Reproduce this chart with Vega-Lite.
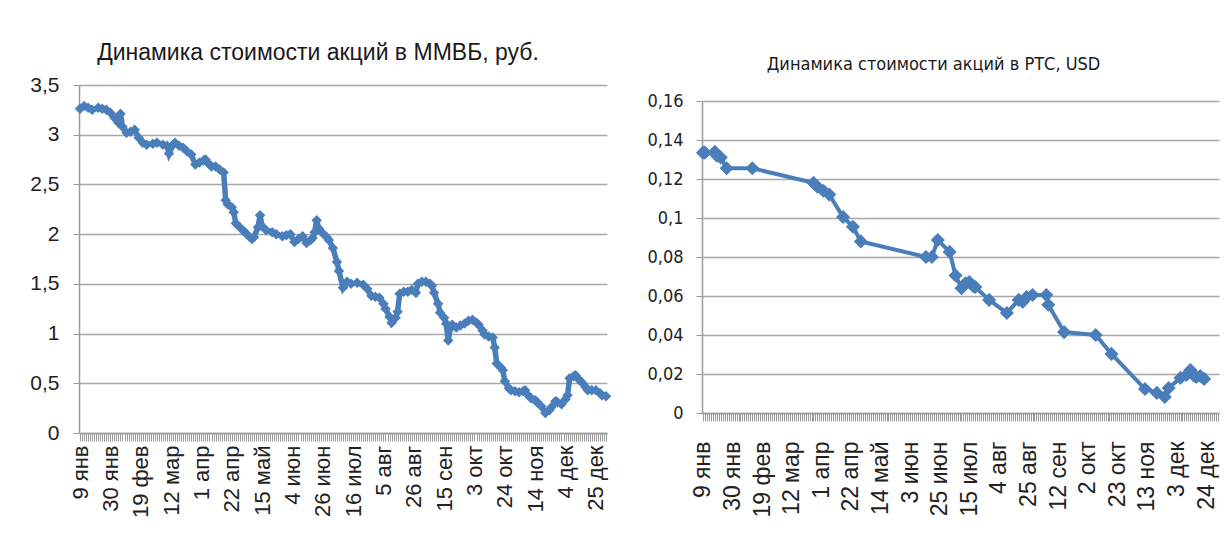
{
  "$schema": "https://vega.github.io/schema/vega-lite/v6.json",
  "background": "white",
  "padding": {"left": 29, "top": 42, "right": 5, "bottom": 5},
  "spacing": 29,
  "config": {
    "view": {"stroke": null},
    "axis": {"labelColor": "#222222", "domainColor": "#9a9a9a", "tickColor": "#9a9a9a", "gridColor": "#a8a8a8", "gridWidth": 1.5, "domainWidth": 1.5}
  },
  "hconcat": [
    {
      "width": 528,
      "height": 348,
      "title": {"text": "Динамика  стоимости акций в ММВБ, руб.", "font": "Liberation Sans", "fontSize": 23, "fontWeight": "normal", "color": "#1a1a1a", "offset": 9, "dx": -25, "anchor": "middle"},
      "data": {"values": [
        {"d":0,"v":3.26},{"d":2,"v":3.29},{"d":4,"v":3.27},{"d":6,"v":3.25},{"d":9,"v":3.27},{"d":11,"v":3.26},{"d":13,"v":3.25},{"d":15,"v":3.22},{"d":17,"v":3.17},{"d":19,"v":3.12},{"d":20,"v":3.21},{"d":21,"v":3.08},{"d":23,"v":3.02},{"d":25,"v":3.03},{"d":27,"v":3.05},{"d":29,"v":2.97},{"d":31,"v":2.92},{"d":33,"v":2.9},{"d":36,"v":2.91},{"d":38,"v":2.92},{"d":41,"v":2.9},{"d":43,"v":2.89},{"d":44,"v":2.81},{"d":46,"v":2.9},{"d":47,"v":2.92},{"d":49,"v":2.89},{"d":51,"v":2.87},{"d":53,"v":2.83},{"d":55,"v":2.8},{"d":57,"v":2.7},{"d":59,"v":2.72},{"d":61,"v":2.74},{"d":62,"v":2.75},{"d":64,"v":2.7},{"d":65,"v":2.68},{"d":67,"v":2.68},{"d":69,"v":2.65},{"d":71,"v":2.62},{"d":72,"v":2.34},{"d":73,"v":2.3},{"d":75,"v":2.27},{"d":76,"v":2.22},{"d":77,"v":2.11},{"d":79,"v":2.07},{"d":81,"v":2.03},{"d":82,"v":2.01},{"d":84,"v":1.97},{"d":85,"v":1.95},{"d":86,"v":1.97},{"d":88,"v":2.07},{"d":89,"v":2.19},{"d":90,"v":2.08},{"d":92,"v":2.04},{"d":95,"v":2.02},{"d":97,"v":2.0},{"d":100,"v":1.98},{"d":102,"v":1.99},{"d":104,"v":2.0},{"d":106,"v":1.92},{"d":108,"v":1.95},{"d":110,"v":1.98},{"d":112,"v":1.91},{"d":114,"v":1.94},{"d":115,"v":1.96},{"d":116,"v":2.02},{"d":117,"v":2.14},{"d":118,"v":2.06},{"d":120,"v":2.01},{"d":122,"v":1.97},{"d":123,"v":1.94},{"d":125,"v":1.86},{"d":127,"v":1.72},{"d":128,"v":1.63},{"d":130,"v":1.46},{"d":132,"v":1.52},{"d":134,"v":1.5},{"d":137,"v":1.51},{"d":140,"v":1.49},{"d":142,"v":1.45},{"d":144,"v":1.38},{"d":146,"v":1.37},{"d":148,"v":1.36},{"d":150,"v":1.3},{"d":151,"v":1.25},{"d":153,"v":1.17},{"d":154,"v":1.11},{"d":156,"v":1.16},{"d":157,"v":1.22},{"d":158,"v":1.4},{"d":160,"v":1.42},{"d":162,"v":1.42},{"d":164,"v":1.44},{"d":166,"v":1.41},{"d":167,"v":1.5},{"d":169,"v":1.52},{"d":171,"v":1.52},{"d":173,"v":1.5},{"d":174,"v":1.48},{"d":175,"v":1.41},{"d":177,"v":1.3},{"d":178,"v":1.21},{"d":180,"v":1.16},{"d":181,"v":1.1},{"d":182,"v":0.93},{"d":183,"v":1.05},{"d":184,"v":1.09},{"d":186,"v":1.06},{"d":188,"v":1.08},{"d":190,"v":1.1},{"d":192,"v":1.13},{"d":194,"v":1.14},{"d":196,"v":1.11},{"d":197,"v":1.09},{"d":199,"v":1.03},{"d":200,"v":0.99},{"d":202,"v":0.97},{"d":204,"v":0.96},{"d":205,"v":0.86},{"d":206,"v":0.7},{"d":208,"v":0.66},{"d":209,"v":0.63},{"d":210,"v":0.52},{"d":212,"v":0.45},{"d":213,"v":0.43},{"d":215,"v":0.42},{"d":217,"v":0.41},{"d":219,"v":0.42},{"d":220,"v":0.43},{"d":222,"v":0.37},{"d":223,"v":0.35},{"d":225,"v":0.33},{"d":226,"v":0.31},{"d":228,"v":0.27},{"d":230,"v":0.2},{"d":232,"v":0.23},{"d":233,"v":0.26},{"d":235,"v":0.32},{"d":236,"v":0.31},{"d":238,"v":0.29},{"d":240,"v":0.34},{"d":241,"v":0.38},{"d":242,"v":0.55},{"d":244,"v":0.57},{"d":245,"v":0.58},{"d":247,"v":0.53},{"d":248,"v":0.51},{"d":250,"v":0.46},{"d":251,"v":0.43},{"d":253,"v":0.43},{"d":255,"v":0.43},{"d":257,"v":0.4},{"d":258,"v":0.38},{"d":260,"v":0.37}
      ]},
      "mark": {"type": "line", "color": "#4a7ebb", "strokeWidth": 5.5, "point": {"shape": "diamond", "filled": true, "size": 110, "color": "#4a7ebb"}},
      "encoding": {
        "x": {"field": "d", "type": "quantitative", "scale": {"domain": [-0.5, 260.5], "nice": false, "zero": false},
          "axis": {"title": null, "grid": false, "tickCount": 261, "tickSize": 8, "tickWidth": 1, "labelAngle": -90, "labelAlign": "right", "labelBaseline": "middle", "labelPadding": 4, "labelOverlap": false, "labelFlush": false, "labelFont": "Liberation Sans", "labelFontSize": 22,
            "labelExpr": "datum.value % 15 === 0 ? ['9 янв','30 янв','19 фев','12 мар','1 апр','22 апр','15 май','4 июн','26 июн','16 июл','5 авг','26 авг','15 сен','3 окт','24 окт','14 ноя','4 дек','25 дек'][datum.value / 15] : ''"}},
        "y": {"field": "v", "type": "quantitative", "scale": {"domain": [0, 3.5], "nice": false},
          "axis": {"title": null, "values": [0, 0.5, 1, 1.5, 2, 2.5, 3, 3.5], "tickSize": 6, "labelPadding": 14, "labelFont": "Liberation Sans", "labelFontSize": 21, "labelExpr": "replace(format(datum.value, '~g'), '.', ',')"}}
      }
    },
    {
      "spacing": 0,
      "vconcat": [
        {
          "width": 517,
          "height": 7,
          "title": {"text": "Динамика  стоимости акций в РТС, USD", "font": "'DejaVu Sans Condensed', 'Liberation Sans', sans-serif", "fontSize": 18, "fontWeight": "normal", "color": "#1a1a1a", "offset": 11, "dx": -27, "anchor": "middle"},
          "data": {"values": []},
          "mark": {"type": "point", "opacity": 0},
          "encoding": {}
        },
        {
          "width": 517,
          "height": 312,
          "data": {"values": [
            {"d":0,"v":0.1335},{"d":1,"v":0.1335},{"d":6,"v":0.134},{"d":7,"v":0.132},{"d":9,"v":0.131},{"d":12,"v":0.1255},{"d":25,"v":0.1255},{"d":56,"v":0.118},{"d":58,"v":0.116},{"d":61,"v":0.114},{"d":64,"v":0.112},{"d":71,"v":0.1005},{"d":76,"v":0.0955},{"d":80,"v":0.088},{"d":113,"v":0.08},{"d":116,"v":0.08},{"d":119,"v":0.0887},{"d":125,"v":0.0826},{"d":128,"v":0.0705},{"d":131,"v":0.064},{"d":133,"v":0.0665},{"d":135,"v":0.0672},{"d":137,"v":0.065},{"d":138,"v":0.0646},{"d":145,"v":0.058},{"d":154,"v":0.0513},{"d":160,"v":0.058},{"d":162,"v":0.057},{"d":164,"v":0.0595},{"d":167,"v":0.0605},{"d":174,"v":0.0605},{"d":175,"v":0.0555},{"d":183,"v":0.0415},{"d":199,"v":0.04},{"d":207,"v":0.0303},{"d":224,"v":0.0123},{"d":230,"v":0.0103},{"d":234,"v":0.0082},{"d":236,"v":0.0128},{"d":242,"v":0.018},{"d":245,"v":0.0195},{"d":247,"v":0.022},{"d":249,"v":0.019},{"d":250,"v":0.0185},{"d":252,"v":0.019},{"d":254,"v":0.0175}
          ]},
          "mark": {"type": "line", "color": "#4a7ebb", "strokeWidth": 4, "point": {"shape": "diamond", "filled": true, "size": 200, "color": "#4a7ebb"}},
          "encoding": {
            "x": {"field": "d", "type": "quantitative", "scale": {"domain": [-0.5, 261.5], "nice": false, "zero": false},
              "axis": {"title": null, "grid": false, "tickCount": 262, "tickSize": 8, "tickWidth": 1, "labelAngle": -90, "labelAlign": "right", "labelBaseline": "middle", "labelPadding": 20, "labelOverlap": false, "labelFlush": false, "labelFont": "Liberation Sans", "labelFontSize": 23,
                "labelExpr": "datum.value % 15 === 0 ? ['9 янв','30 янв','19 фев','12 мар','1 апр','22 апр','14 май','3 июн','25 июн','15 июл','4 авг','25 авг','12 сен','2 окт','23 окт','13 ноя','3 дек','24 дек'][datum.value / 15] : ''"}},
            "y": {"field": "v", "type": "quantitative", "scale": {"domain": [0, 0.16], "nice": false},
              "axis": {"title": null, "values": [0, 0.02, 0.04, 0.06, 0.08, 0.1, 0.12, 0.14, 0.16], "tickSize": 6, "labelPadding": 13, "labelFont": "'DejaVu Sans Condensed', 'Liberation Sans', sans-serif", "labelFontSize": 18, "labelExpr": "replace(format(datum.value, '~g'), '.', ',')"}}
          }
        }
      ]
    }
  ]
}
